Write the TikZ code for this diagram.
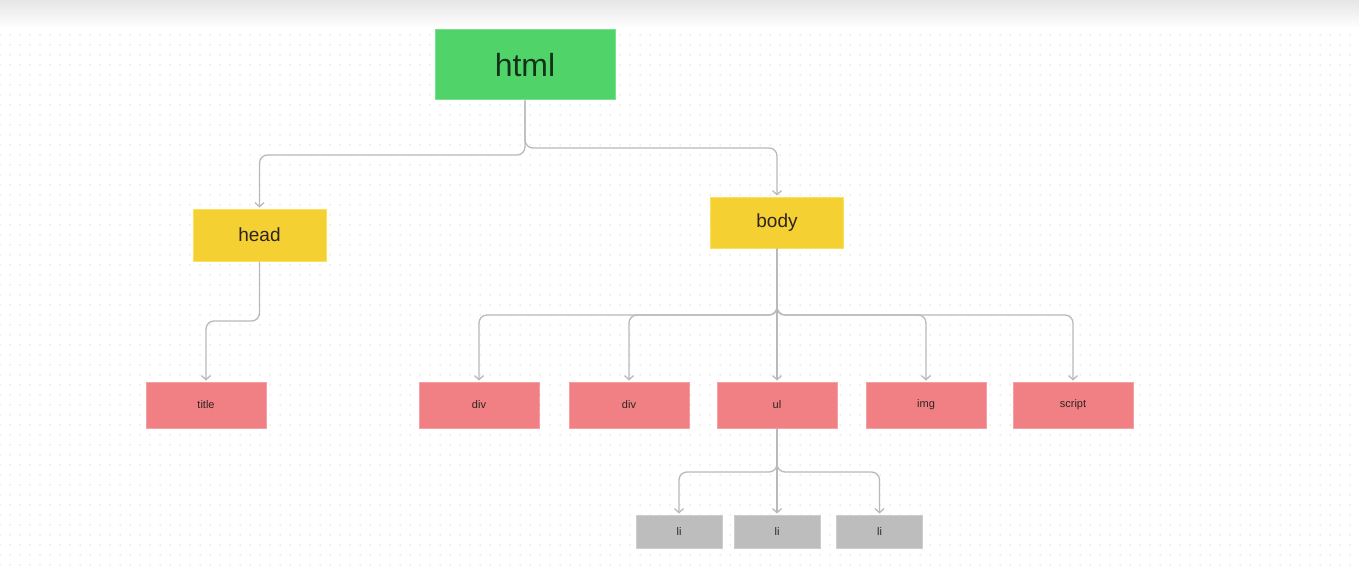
\documentclass[tikz,border=0pt]{standalone}
\usepackage{fontspec}
\setmainfont{Liberation Sans}
\usetikzlibrary{arrows.meta,patterns.meta}
\definecolor{htmlgreen}{RGB}{80,212,106}
\definecolor{htmlgreenb}{RGB}{120,225,140}
\definecolor{tagyellow}{RGB}{245,208,51}
\definecolor{tagyellowb}{RGB}{250,225,90}
\definecolor{tagpink}{RGB}{240,128,131}
\definecolor{tagpinkb}{RGB}{245,160,162}
\definecolor{taggray}{RGB}{189,189,189}
\definecolor{taggrayb}{RGB}{205,205,205}
\definecolor{connc}{RGB}{185,185,185}
\definecolor{dotc}{RGB}{215,215,215}
\definecolor{txt}{RGB}{45,35,35}
\tikzdeclarepattern{
  name=griddots,
  type=uncolored,
  bottom left={(-1pt,-1pt)},
  top right={(1pt,1pt)},
  tile size={(10pt,10pt)},
  code={\pgfpathcircle{\pgfpointorigin}{0.75pt}\pgfusepath{fill}}
}
\begin{document}
\begin{tikzpicture}[x=1pt,y=-1pt,
  box/.style={rectangle, inner sep=0pt, line width=1pt, text=txt},
  rootbox/.style={box, fill=htmlgreen, draw=htmlgreenb, minimum width=180pt, minimum height=70pt,
    text={rgb,255:red,20;green,50;blue,25}, font=\fontsize{32}{38}\selectfont},
  midbox/.style={box, fill=tagyellow, draw=tagyellowb, minimum width=133pt, minimum height=52pt,
    font=\fontsize{19}{23}\selectfont},
  leafbox/.style={box, fill=tagpink, draw=tagpinkb, minimum width=120pt, minimum height=46pt,
    font=\fontsize{11}{13}\selectfont},
  libox/.style={box, fill=taggray, draw=taggrayb, minimum width=86pt, minimum height=33pt,
    font=\fontsize{11}{13}\selectfont},
  conn/.style={draw=connc, line width=1.3pt, rounded corners=8pt,
    -{Straight Barb[length=4pt,width=9pt,line width=1.3pt]}, shorten >=1pt}
]
\useasboundingbox (0,0) rectangle (1359,575);
\fill[white] (0,0) rectangle (1359,575);
\shade[top color=black!10, bottom color=white] (0,0) rectangle (1359,28);
\fill[pattern=griddots, pattern color=dotc] (0,28) rectangle (1359,570);

\node[rootbox] (html) at (525,65) {html};
\node[midbox] (head) at (259.5,235) {head};
\node[midbox, minimum height=51pt] (body) at (777,222.5) {body};

\node[leafbox] (title) at (206,405) {title};
\node[leafbox] (div1) at (479,405) {div};
\node[leafbox] (div2) at (629,405) {div};
\node[leafbox] (ul) at (777,405) {ul};
\node[leafbox] (img) at (926,405) {img};
\node[leafbox] (script) at (1073,405) {script};

\node[libox] (li1) at (679,531.5) {li};
\node[libox] (li2) at (777,531.5) {li};
\node[libox] (li3) at (879.5,531.5) {li};

\draw[conn] (html.south) -- (html.south |- 0,155) -| (head.north);
\draw[conn] (html.south) -- (html.south |- 0,148) -| (body.north);

\draw[conn] (head.south) -- (head.south |- 0,321) -| (title.north);

\draw[conn] (body.south) -- (body.south |- 0,315) -| (div1.north);
\draw[conn] (body.south) -- (body.south |- 0,315) -| (div2.north);
\draw[conn] (body.south) -- (ul.north);
\draw[conn] (body.south) -- (body.south |- 0,315) -| (img.north);
\draw[conn] (body.south) -- (body.south |- 0,315) -| (script.north);

\draw[conn] (ul.south) -- (ul.south |- 0,472) -| (li1.north);
\draw[conn] (ul.south) -- (li2.north);
\draw[conn] (ul.south) -- (ul.south |- 0,472) -| (li3.north);
\end{tikzpicture}
\end{document}
